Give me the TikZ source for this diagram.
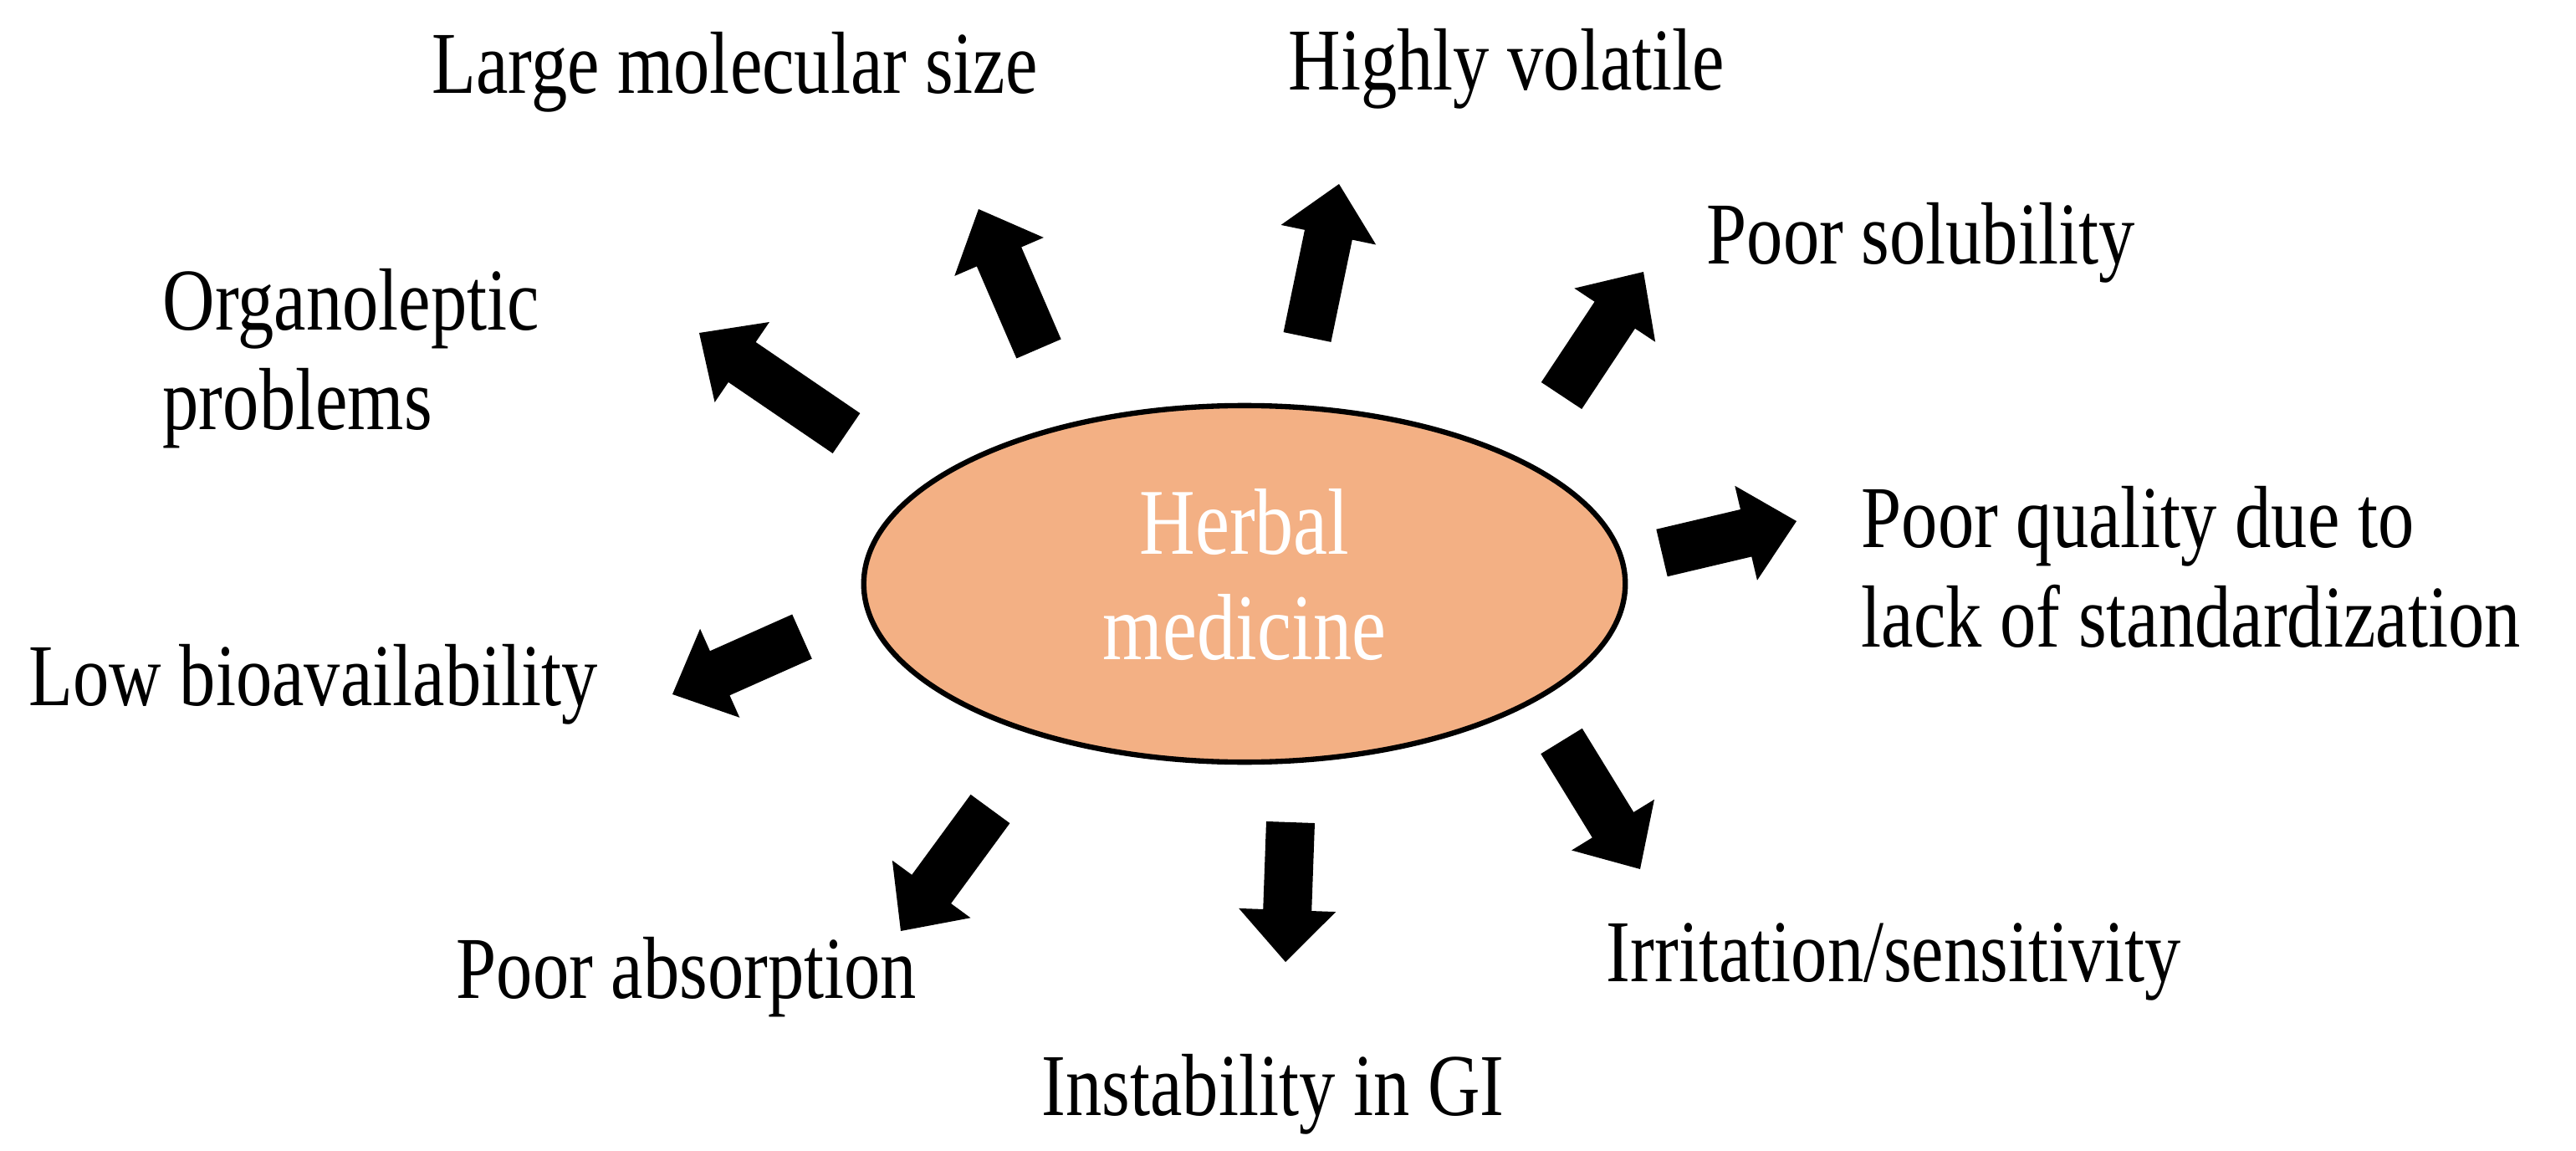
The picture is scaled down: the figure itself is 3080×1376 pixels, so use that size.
\documentclass[tikz,border=0pt]{standalone}
\usepackage{fontspec}
\setmainfont{Liberation Serif}
\usetikzlibrary{calc,shapes.geometric}
\newcommand\fatarrow[3]{%
  \coordinate (#3H) at ($(#2)!0.62cm!(#1)$);
  \fill[black] ($(#1)!0.29cm!90:(#2)$) -- ($(#3H)!0.29cm!-90:(#1)$) -- ($(#3H)!0.58cm!-90:(#1)$) -- (#2)
    -- ($(#3H)!0.58cm!90:(#1)$) -- ($(#3H)!0.29cm!90:(#1)$) -- ($(#1)!0.29cm!-90:(#2)$) -- cycle;}
\newcommand\lbl[1]{\scalebox{0.82}[1]{\begin{tabular}{@{}l@{}}#1\end{tabular}}}
\tikzset{
  txt/.style={font=\fontsize{30}{34}\selectfont, inner sep=0pt, anchor=west},
  herb/.style={ellipse, draw=black, line width=1.8pt, fill=herbfill, minimum width=9.1cm, minimum height=4.26cm, inner sep=0pt}
}
\definecolor{herbfill}{HTML}{F3B084}
\begin{document}
\begin{tikzpicture}[x=0.01cm,y=-0.01cm]
\useasboundingbox (0,0) rectangle (3080,1376);
\node[herb] (hm) at (1488,698) {};
\node[font=\fontsize{32}{36}\selectfont, text=white, align=center] (hmt) at (1488,700) {\lbl{\hfil Herbal\hfil\\ medicine}};
% arrows
\coordinate (a1t) at (1012,518); \coordinate (a1h) at (836,398);
\coordinate (a2t) at (1242,417); \coordinate (a2h) at (1170,250);
\coordinate (a3t) at (1563,403); \coordinate (a3h) at (1601,220);
\coordinate (a4t) at (1867,473); \coordinate (a4h) at (1965,325);
\coordinate (a5t) at (1987,661); \coordinate (a5h) at (2148,623);
\coordinate (a6t) at (1867,886); \coordinate (a6h) at (1961,1039);
\coordinate (a7t) at (1543,983); \coordinate (a7h) at (1537,1150);
\coordinate (a8t) at (1184,967); \coordinate (a8h) at (1077,1113);
\coordinate (a9t) at (959,761); \coordinate (a9h) at (804,830);
\fatarrow{a1t}{a1h}{x1}
\fatarrow{a2t}{a2h}{x2}
\fatarrow{a3t}{a3h}{x3}
\fatarrow{a4t}{a4h}{x4}
\fatarrow{a5t}{a5h}{x5}
\fatarrow{a6t}{a6h}{x6}
\fatarrow{a7t}{a7h}{x7}
\fatarrow{a8t}{a8h}{x8}
\fatarrow{a9t}{a9h}{x9}
% labels
\node[txt] (l1) at (194,430) {\lbl{Organoleptic\\problems}};
\node[txt] (l2) at (516,88) {\lbl{Large molecular size}};
\node[txt] (l3) at (1540,84) {\lbl{Highly volatile}};
\node[txt] (l4) at (2040,292) {\lbl{Poor solubility}};
\node[txt] (l5) at (2225,690) {\lbl{Poor quality due to\\lack of standardization}};
\node[txt] (l6) at (1920,1150) {\lbl{Irritation/sensitivity}};
\node[txt] (l7) at (1245,1310) {\lbl{Instability in GI}};
\node[txt] (l8) at (545,1170) {\lbl{Poor absorption}};
\node[txt] (l9) at (34,820) {\lbl{Low bioavailability}};
\end{tikzpicture}
\end{document}
